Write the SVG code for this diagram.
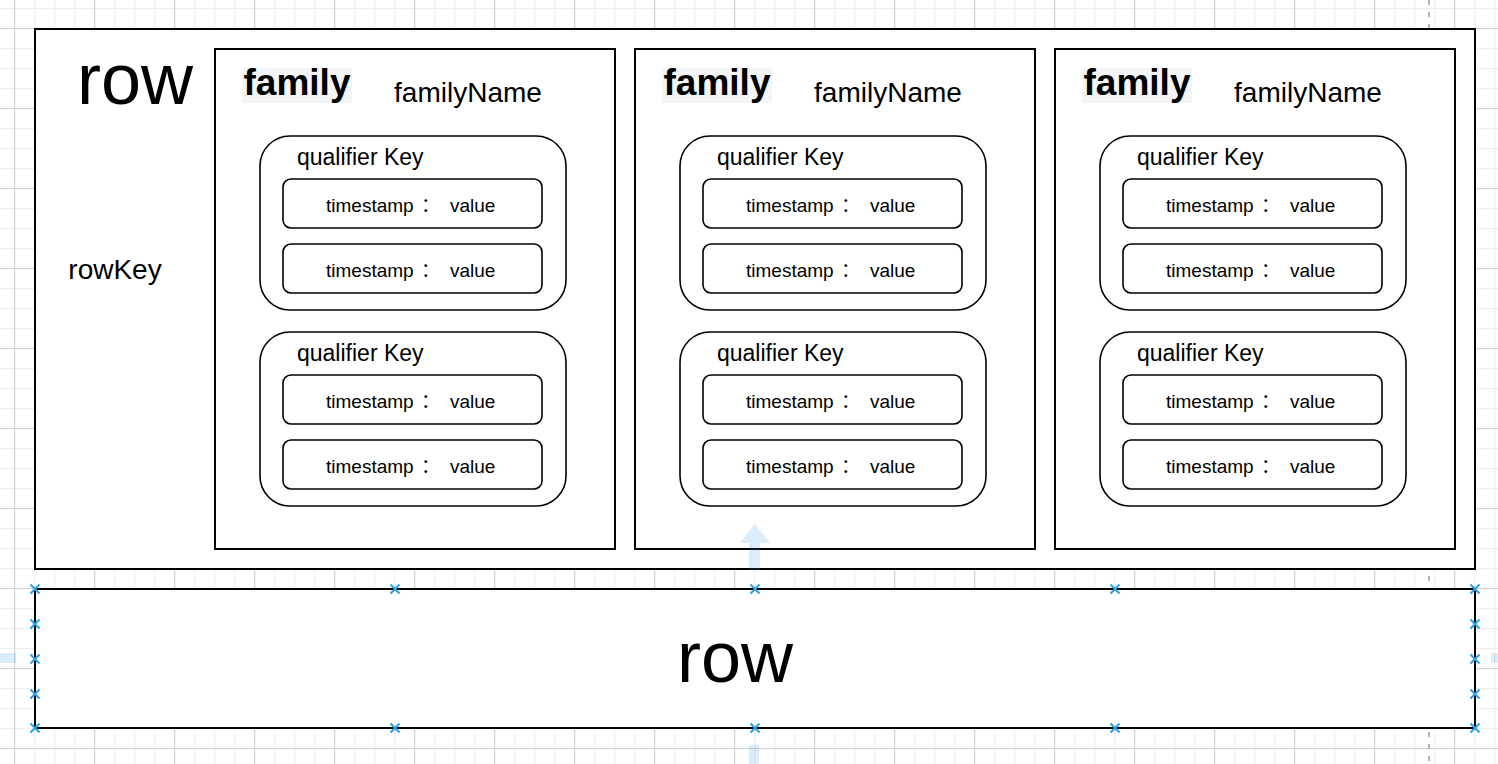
<svg xmlns="http://www.w3.org/2000/svg" width="1498" height="764" viewBox="0 0 1498 764">
<defs>
<pattern id="gMinor" x="14" y="8" width="20" height="20" patternUnits="userSpaceOnUse">
<path d="M0.5 0V20M0 0.5H20" stroke="#efefef" stroke-width="1.6" fill="none"/>
</pattern>
<pattern id="gMajor" x="14" y="28" width="80" height="80" patternUnits="userSpaceOnUse">
<path d="M0.5 0V80M0 0.5H80" stroke="#d2d2d2" stroke-width="1.2" fill="none"/>
</pattern>
<g id="cross"><path d="M-4.5 -4.5L4.5 4.5M-4.5 4.5L4.5 -4.5" stroke="#2f9fe8" stroke-width="2"/></g>
</defs>
<style>
text{font-family:"Liberation Sans",Arial,"Noto Sans CJK SC",sans-serif;fill:#000}
.box{fill:#fff;stroke:#000;stroke-width:2}
.qk{fill:#fff;stroke:#000;stroke-width:1.6}
.ts{fill:#fff;stroke:#000;stroke-width:1.6}
.big{font-size:72px}
.fam{font-size:37px;font-weight:bold}
.fn{font-size:28px}
.q{font-size:23px}
.t{font-size:19px}
.hl{fill:#f4f5f7}
.hov{fill:#1e90e6;opacity:0.16}
</style>
<rect width="1498" height="764" fill="#fff"/>
<rect width="1498" height="764" fill="url(#gMinor)"/>
<rect width="1498" height="764" fill="url(#gMajor)"/>
<line x1="1429" y1="0" x2="1429" y2="764" stroke="#b5b5b5" stroke-width="2" stroke-dasharray="5 7"/>

<g id="row-top">
<rect class="box" x="35" y="29" width="1440" height="540"/>
<text class="big" x="135" y="104" text-anchor="middle">row</text>
<text class="fn" x="115" y="279" text-anchor="middle">rowKey</text>
</g>

<g id="family-1">
<rect class="box" x="215" y="49" width="400" height="500"/>
<rect class="hl" x="242" y="68" width="110" height="35"/>
<text class="fam" x="297" y="95" text-anchor="middle">family</text>
<text class="fn" x="468" y="102" text-anchor="middle">familyName</text>
<g id="f1-q1">
<rect class="qk" x="260" y="136" width="306" height="174" rx="30"/>
<text class="q" x="297" y="165">qualifier Key</text>
<rect class="ts" x="283" y="179" width="259" height="49" rx="8"/>
<text class="t" y="212"><tspan x="326">timestamp</tspan><tspan x="421">：</tspan><tspan x="450">value</tspan></text>
<rect class="ts" x="283" y="244" width="259" height="49" rx="8"/>
<text class="t" y="277"><tspan x="326">timestamp</tspan><tspan x="421">：</tspan><tspan x="450">value</tspan></text>
</g>
<g id="f1-q2">
<rect class="qk" x="260" y="332" width="306" height="174" rx="30"/>
<text class="q" x="297" y="361">qualifier Key</text>
<rect class="ts" x="283" y="375" width="259" height="49" rx="8"/>
<text class="t" y="408"><tspan x="326">timestamp</tspan><tspan x="421">：</tspan><tspan x="450">value</tspan></text>
<rect class="ts" x="283" y="440" width="259" height="49" rx="8"/>
<text class="t" y="473"><tspan x="326">timestamp</tspan><tspan x="421">：</tspan><tspan x="450">value</tspan></text>
</g>
</g>

<g id="family-2">
<rect class="box" x="635" y="49" width="400" height="500"/>
<rect class="hl" x="662" y="68" width="110" height="35"/>
<text class="fam" x="717" y="95" text-anchor="middle">family</text>
<text class="fn" x="888" y="102" text-anchor="middle">familyName</text>
<g id="f2-q1">
<rect class="qk" x="680" y="136" width="306" height="174" rx="30"/>
<text class="q" x="717" y="165">qualifier Key</text>
<rect class="ts" x="703" y="179" width="259" height="49" rx="8"/>
<text class="t" y="212"><tspan x="746">timestamp</tspan><tspan x="841">：</tspan><tspan x="870">value</tspan></text>
<rect class="ts" x="703" y="244" width="259" height="49" rx="8"/>
<text class="t" y="277"><tspan x="746">timestamp</tspan><tspan x="841">：</tspan><tspan x="870">value</tspan></text>
</g>
<g id="f2-q2">
<rect class="qk" x="680" y="332" width="306" height="174" rx="30"/>
<text class="q" x="717" y="361">qualifier Key</text>
<rect class="ts" x="703" y="375" width="259" height="49" rx="8"/>
<text class="t" y="408"><tspan x="746">timestamp</tspan><tspan x="841">：</tspan><tspan x="870">value</tspan></text>
<rect class="ts" x="703" y="440" width="259" height="49" rx="8"/>
<text class="t" y="473"><tspan x="746">timestamp</tspan><tspan x="841">：</tspan><tspan x="870">value</tspan></text>
</g>
</g>

<g id="family-3">
<rect class="box" x="1055" y="49" width="400" height="500"/>
<rect class="hl" x="1082" y="68" width="110" height="35"/>
<text class="fam" x="1137" y="95" text-anchor="middle">family</text>
<text class="fn" x="1308" y="102" text-anchor="middle">familyName</text>
<g id="f3-q1">
<rect class="qk" x="1100" y="136" width="306" height="174" rx="30"/>
<text class="q" x="1137" y="165">qualifier Key</text>
<rect class="ts" x="1123" y="179" width="259" height="49" rx="8"/>
<text class="t" y="212"><tspan x="1166">timestamp</tspan><tspan x="1261">：</tspan><tspan x="1290">value</tspan></text>
<rect class="ts" x="1123" y="244" width="259" height="49" rx="8"/>
<text class="t" y="277"><tspan x="1166">timestamp</tspan><tspan x="1261">：</tspan><tspan x="1290">value</tspan></text>
</g>
<g id="f3-q2">
<rect class="qk" x="1100" y="332" width="306" height="174" rx="30"/>
<text class="q" x="1137" y="361">qualifier Key</text>
<rect class="ts" x="1123" y="375" width="259" height="49" rx="8"/>
<text class="t" y="408"><tspan x="1166">timestamp</tspan><tspan x="1261">：</tspan><tspan x="1290">value</tspan></text>
<rect class="ts" x="1123" y="440" width="259" height="49" rx="8"/>
<text class="t" y="473"><tspan x="1166">timestamp</tspan><tspan x="1261">：</tspan><tspan x="1290">value</tspan></text>
</g>
</g>

<g id="row-bottom">
<rect class="box" x="35" y="589" width="1440" height="139"/>
<text class="big" x="735" y="682" text-anchor="middle">row</text>
</g>

<g id="connectors">
<path class="hov" d="M755 524L770 543H760V570H749V543H740Z"/>
<rect class="hov" x="749" y="745" width="10" height="19"/>
<rect class="hov" x="0" y="653" width="16" height="10"/>
<rect class="hov" x="1491" y="653" width="7" height="10"/>
<use href="#cross" x="35" y="589"/><use href="#cross" x="395" y="589"/><use href="#cross" x="755" y="589"/><use href="#cross" x="1115" y="589"/><use href="#cross" x="1475" y="589"/>
<use href="#cross" x="35" y="728"/><use href="#cross" x="395" y="728"/><use href="#cross" x="755" y="728"/><use href="#cross" x="1115" y="728"/><use href="#cross" x="1475" y="728"/>
<use href="#cross" x="35" y="624"/><use href="#cross" x="35" y="659"/><use href="#cross" x="35" y="694"/>
<use href="#cross" x="1475" y="624"/><use href="#cross" x="1475" y="659"/><use href="#cross" x="1475" y="694"/>
</g>
</svg>
